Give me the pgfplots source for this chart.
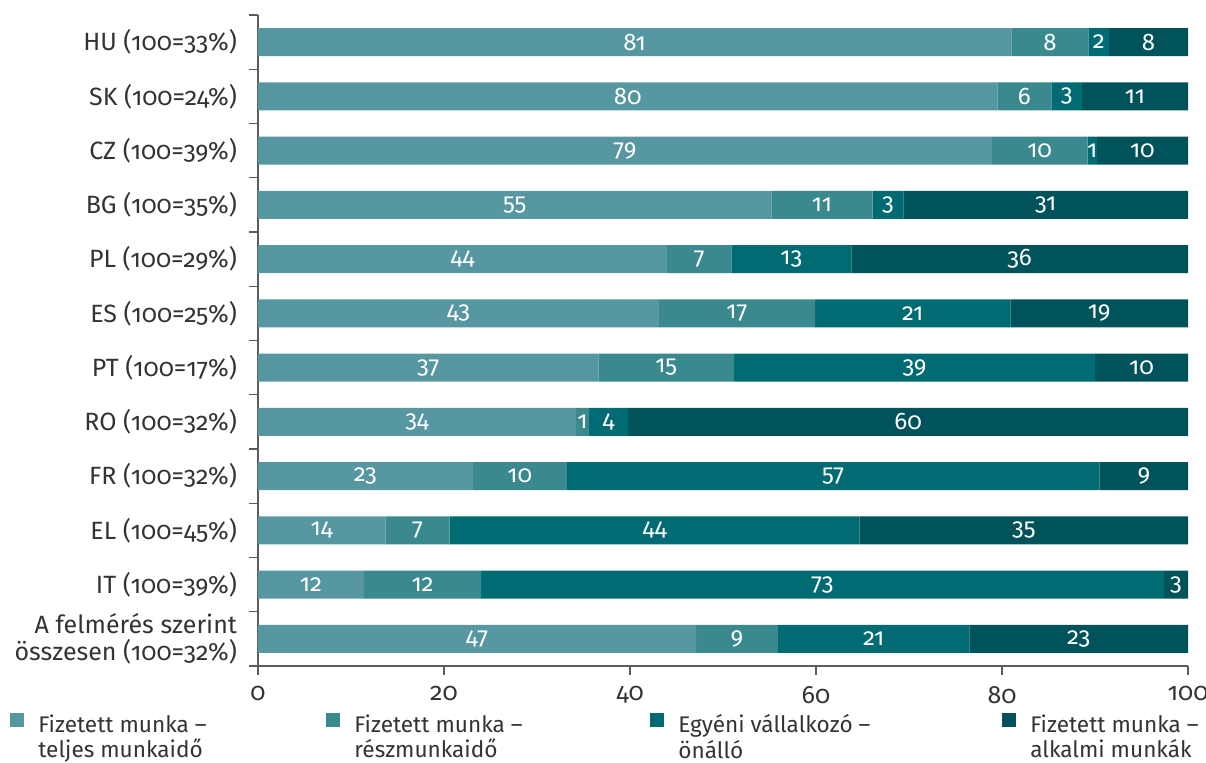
\documentclass[border=0pt]{standalone}
\usepackage{fontspec}
\setmainfont{Fira Sans}[Numbers=OldStyle]
\usepackage{pgfplots}
\usepackage{pgfplotstable}
\pgfplotsset{compat=1.18}
\definecolor{cA}{HTML}{5797A1}
\definecolor{cB}{HTML}{3A898E}
\definecolor{cC}{HTML}{006B73}
\definecolor{cD}{HTML}{00535B}
\definecolor{txt}{HTML}{333333}

\pgfplotstableread{
pos a la b lb c lc d ld
11 81.0 81 8.3 8 2.2 2 8.5 8
10 79.5 80 5.8 6 3.3 3 11.4 11
9 78.9 79 10.3 10 1.0 1 9.8 10
8 55.2 55 10.9 11 3.3 3 30.6 31
7 44.0 44 6.9 7 12.9 13 36.2 36
6 43.1 43 16.8 17 21.0 21 19.1 19
5 36.6 37 14.6 15 38.8 39 10.0 10
4 34.2 34 1.4 1 4.2 4 60.2 60
3 23.1 23 10.1 10 57.3 57 9.5 9
2 13.7 14 6.9 7 44.1 44 35.3 35
1 11.4 12 12.6 12 73.4 73 2.6 3
0 47.1 47 8.8 9 20.6 21 23.5 23
}\data

\pgfplotsset{
  sq legend/.style={legend image code/.code={\fill[##1] (0pt,-1pt) rectangle (7pt,6pt);}},
  lbl/.style={nodes near coords, point meta=explicit symbolic,
    every node near coord/.append style={anchor=center, text=white, font=\fontsize{12}{13}\selectfont}},
}

\begin{document}
\begin{tikzpicture}
\path[use as bounding box] (-129pt,-48.5pt) rectangle (474pt,333pt);
\begin{axis}[
  scale only axis, width=465pt, height=325.5pt,
  xbar stacked, bar width=14pt,
  xmin=0, xmax=100, ymin=-0.5, ymax=11.5,
  axis lines*=left,
  axis line style={draw=txt!80, line width=0.7pt},
  tick align=outside,
  xtick={0,20,...,100},
  x tick style={draw=txt!80, line width=0.7pt},
  major tick length=4.5pt,
  ytick={-0.5,0.5,...,11.5},
  yticklabels={},
  y tick style={draw=txt!80, line width=0.7pt},
  extra y ticks={0,1,...,11},
  extra y tick labels={{A felmérés szerint\\összesen (100=32\%)},IT (100=39\%),EL (100=45\%),FR (100=32\%),RO (100=32\%),PT (100=17\%),ES (100=25\%),PL (100=29\%),BG (100=35\%),CZ (100=39\%),SK (100=24\%),HU (100=33\%)},
  extra y tick style={major tick length=0pt, yticklabel style={align=right, xshift=-7pt}},
  ticklabel style={font=\fontsize{12.5}{13.5}\selectfont, text=txt},
  /pgf/number format/assume math mode=true,
  xticklabel style={yshift=-2pt},
  legend style={at={(0,0)}, anchor=north west, xshift=-127pt, yshift=-20pt, draw=none, fill=none,
    font=\fontsize{11.3}{12.8}\selectfont, text=txt, legend columns=4,
    /tikz/every even column/.append style={column sep=0pt},
    /tikz/every odd column/.append style={column sep=0pt}},
  legend cell align=left,
]
\addplot[fill=cA, draw=none, sq legend, lbl] table[x=a, y=pos, meta=la]{\data};
\addplot[fill=cB, draw=none, sq legend, lbl] table[x=b, y=pos, meta=lb]{\data};
\addplot[fill=cC, draw=none, sq legend, lbl] table[x=c, y=pos, meta=lc]{\data};
\addplot[fill=cD, draw=none, sq legend, lbl] table[x=d, y=pos, meta=ld]{\data};
\legend{\hspace{5pt}\parbox[t]{142pt}{\raggedright Fizetett munka –\\teljes munkaidő},
        \hspace{5pt}\parbox[t]{146pt}{\raggedright Fizetett munka –\\részmunkaidő},
        \hspace{5pt}\parbox[t]{160pt}{\raggedright Egyéni vállalkozó –\\önálló},
        \hspace{5pt}\parbox[t]{100pt}{\raggedright Fizetett munka –\\alkalmi munkák}}
\end{axis}
\end{tikzpicture}
\end{document}
